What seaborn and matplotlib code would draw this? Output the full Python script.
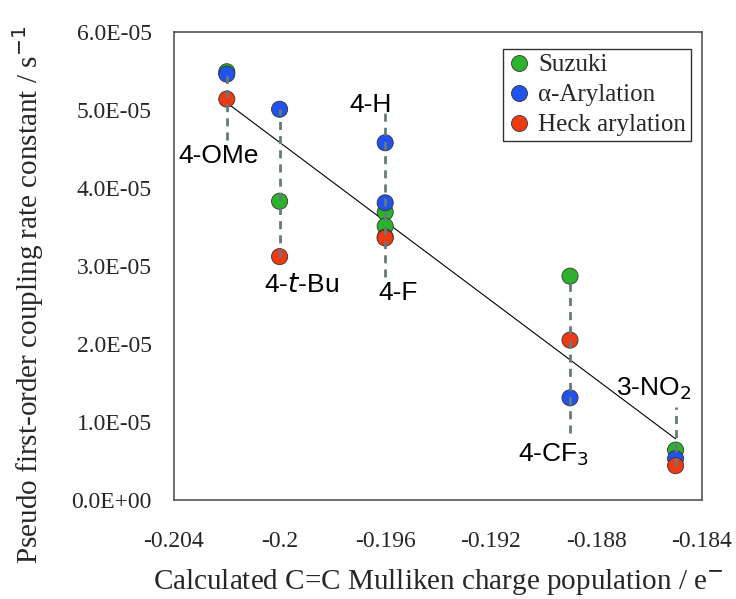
import numpy as np
import pandas as pd
import matplotlib
matplotlib.use("Agg")
import matplotlib.pyplot as plt
import seaborn as sns
from matplotlib.ticker import FuncFormatter

# substituents and their C=C Mulliken charge population
substituents = ["4-OMe", "4-t-Bu", "4-H", "4-F", "4-CF3", "3-NO2"]
charge = [-0.202, -0.200, -0.196, -0.196, -0.189, -0.185]

# pseudo first-order rate constants (s^-1)
suzuki = [5.49e-5, 3.83e-5, 3.69e-5, 3.51e-5, 2.87e-5, 0.64e-5]
alpha_arylation = [5.46e-5, 5.01e-5, 4.58e-5, 3.81e-5, 1.31e-5, 0.53e-5]
heck = [5.14e-5, 3.12e-5, 3.37e-5, 3.36e-5, 2.05e-5, 0.44e-5]

series_names = ["Suzuki", "\u03b1-Arylation", "Heck arylation"]
colors = ["#2bb42b", "#2152ee", "#ee3a12"]

# substituent labels
label_text = ["4-OMe", "4-$t$-Bu", "4-H", "4-F", "4-CF$_3$", "3-NO$_2$"]
label_x = [-0.20233, -0.19915, -0.19654, -0.19552, -0.18964, -0.18582]
label_y = [4.41e-5, 2.76e-5, 5.06e-5, 2.65e-5, 0.58e-5, 1.42e-5]

# dashed guide lines
guide_x = [-0.202, -0.200, -0.196, -0.189, -0.185]
guide_top = [5.49e-5, 5.01e-5, 4.97e-5, 2.87e-5, 1.19e-5]
guide_bottom = [4.62e-5, 3.12e-5, 2.86e-5, 0.86e-5, 0.44e-5]

df = pd.DataFrame({
    "charge": charge * 3,
    "rate": suzuki + alpha_arylation + heck,
    "reaction": [n for n in series_names for _ in charge],
})

sns.set_style("white")
serif = ["Liberation Serif", "DejaVu Serif"]
sans = ["Liberation Sans", "DejaVu Sans"]

W, H = 736, 599
fig = plt.figure(figsize=(W / 100, H / 100), dpi=100)
# axes box in pixels: left 174, right 702, top 32, bottom 500
ax = fig.add_axes([174 / W, 1 - 500 / H, 528 / W, 468 / H])

# linear trend through all points
coef = np.polyfit(df["charge"], df["rate"], 1)
xs = np.array([min(charge), max(charge)])
ax.plot(xs, np.polyval(coef, xs), color="black", lw=0.8, zorder=1)

sns.scatterplot(data=df, x="charge", y="rate", hue="reaction",
                palette=dict(zip(series_names, colors)), s=135,
                edgecolor="#333333", linewidth=0.6, ax=ax, zorder=3,
                legend=False)
ax.set_xlabel("")
ax.set_ylabel("")

ax.vlines(guide_x, guide_bottom, guide_top, colors="#667a7a",
          linestyles=(0, (2.9, 2.2)), lw=2.0, zorder=4)

for t, x, y in zip(label_text, label_x, label_y):
    ax.text(x, y, t, ha="center", va="center", fontsize=19,
            family=sans, color="black", zorder=5)

ax.set_xlim(-0.204, -0.184)
ax.set_ylim(0, 6.0e-5)
ax.set_xticks(np.arange(-0.204, -0.1839, 0.004))
ax.set_xticklabels(["-0.204", "-0.2", "-0.196", "-0.192", "-0.188", "-0.184"])
ax.set_yticks(np.arange(0, 6.01e-5, 1e-5))
ax.yaxis.set_major_formatter(FuncFormatter(
    lambda v, p: "%.1fE%+03d" % (v / 1e-5 if v else 0.0, -5 if v else 0)))

for lbl in ax.get_xticklabels() + ax.get_yticklabels():
    lbl.set_family(serif)
    lbl.set_fontsize(17)
ax.tick_params(axis="both", direction="out", length=6, width=1,
               color="#444444")
ax.tick_params(axis="x", pad=16)
ax.tick_params(axis="y", pad=10)
for sp in ax.spines.values():
    sp.set_color("#555555")
    sp.set_linewidth(1.2)

fig.text(438 / W, 1 - 582 / H,
         "Calculated C=C Mulliken charge population / e$^{-}$",
         family=serif, fontsize=21, ha="center", va="center")
fig.text(28 / W, 1 - 295 / H,
         "Pseudo first-order coupling rate constant / s$^{-1}$",
         family=serif, fontsize=21, ha="center", va="center", rotation=90)

handles = [plt.Line2D([], [], marker="o", ls="", markersize=11.5,
                      markerfacecolor=c, markeredgecolor="#333333",
                      markeredgewidth=0.6) for c in colors]
leg = ax.legend(handles, series_names, loc="upper right",
                bbox_to_anchor=(0.979, 0.964), borderaxespad=0,
                frameon=True, fancybox=False, edgecolor="black",
                prop={"family": serif, "size": 18},
                handletextpad=0.3, borderpad=0.2, labelspacing=0.3,
                handlelength=0.9)
leg.get_frame().set_linewidth(1.0)

fig.savefig("out.png", dpi=100)
